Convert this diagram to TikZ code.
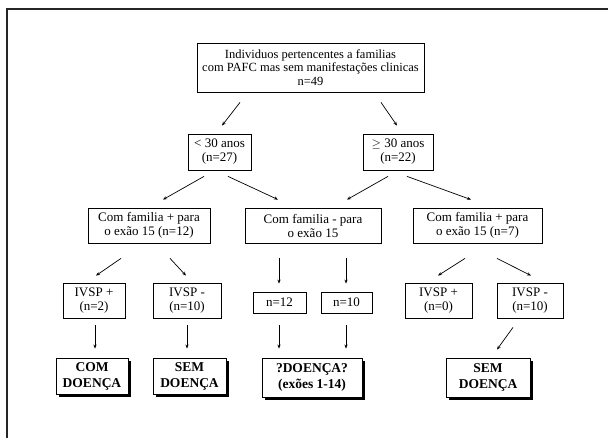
\documentclass[tikz,border=0pt]{standalone}
\usepackage{fontspec}
\setmainfont{Liberation Serif}
\usetikzlibrary{arrows.meta,shadows}
\begin{document}
\begin{tikzpicture}[x=1pt,y=-1pt,
  box/.style={draw, line width=0.8pt, fill=white, inner sep=1pt, align=center,
    font=\fontsize{13}{14}\selectfont},
  endbox/.style={box, line width=0.9pt, font=\fontsize{13.5}{16}\selectfont\bfseries,
    drop shadow={shadow xshift=3pt, shadow yshift=-3pt, fill=black, opacity=1}},
  arr/.style={line width=0.7pt, -{Stealth[length=4pt,width=3.2pt]}},
  frameline/.style={line width=1.4pt, draw=black!85}]
\useasboundingbox (0,0) rectangle (608,438);
\draw[frameline] (7,438) -- (7,9) -- (608,9);

\node[box, minimum width=227pt, minimum height=49pt, font=\fontsize{12.5}{13.5}\selectfont] (top) at (310.5,67.5)
  {Individuos pertencentes a familias\\com PAFC mas sem manifestações clinicas\\n=49};
\node[box, minimum width=63pt, minimum height=36pt] (lt30) at (219.5,152) {< 30 anos\\(n=27)};
\node[box, minimum width=70pt, minimum height=36pt] (ge30) at (398,152) {$\geq$ 30 anos\\(n=22)};

\node[box, minimum width=122pt, minimum height=35pt] (A) at (149,225.5) {Com familia + para\\o exão 15 (n=12)};
\node[box, minimum width=136pt, minimum height=35pt] (B) at (313,225.5) {Com familia - para\\o exão 15};
\node[box, minimum width=129pt, minimum height=35pt] (C) at (477.5,225.5) {Com familia + para\\o exão 15 (n=7)};

\node[box, minimum width=62pt, minimum height=35pt] (D1) at (94,300.5) {IVSP +\\(n=2)};
\node[box, minimum width=68pt, minimum height=35pt] (D2) at (187,300.5) {IVSP -\\(n=10)};
\node[box, minimum width=53pt, minimum height=21pt] (D3) at (279.5,302.5) {n=12};
\node[box, minimum width=51pt, minimum height=21pt] (D4) at (346.5,302.5) {n=10};
\node[box, minimum width=67pt, minimum height=35pt] (D5) at (438.5,300.5) {IVSP +\\(n=0)};
\node[box, minimum width=66pt, minimum height=35pt] (D6) at (530,300.5) {IVSP -\\(n=10)};

\node[endbox, minimum width=72pt, minimum height=36pt] (E1) at (92,376) {COM\\DOENÇA};
\node[endbox, minimum width=73pt, minimum height=36pt] (E2) at (189.5,376) {SEM\\DOENÇA};
\node[endbox, minimum width=100pt, minimum height=39pt] (E3) at (312,377.5) {?DOENÇA?\\(exões 1-14)};
\node[endbox, minimum width=84pt, minimum height=39pt] (E4) at (488,377.5) {SEM\\DOENÇA};

\draw[arr] ([xshift=-70.5pt,yshift=-10pt]top.south) -- ([xshift=2.5pt,yshift=8pt]lt30.north);
\draw[arr] ([xshift=70.5pt,yshift=-10pt]top.south) -- ([xshift=-1pt,yshift=8pt]ge30.north);
\draw[arr] ([xshift=-15.5pt,yshift=-6pt]lt30.south) -- ([xshift=14pt,yshift=8pt]A.north);
\draw[arr] ([xshift=8.5pt,yshift=-6pt]lt30.south) -- ([xshift=-35pt,yshift=8pt]B.north);
\draw[arr] ([xshift=-10pt,yshift=-6pt]ge30.south) -- ([xshift=34pt,yshift=8pt]B.north);
\draw[arr] ([xshift=9pt,yshift=-6pt]ge30.south) -- ([xshift=-6.5pt,yshift=8pt]C.north);

\draw[arr] ([xshift=-28pt,yshift=-15pt]A.south) -- ([xshift=2pt,yshift=7pt]D1.north);
\draw[arr] ([xshift=21pt,yshift=-15pt]A.south) -- ([xshift=-1pt,yshift=7pt]D2.north);
\draw[arr] ([xshift=-34pt,yshift=-15pt]B.south) -- ([xshift=-0.5pt,yshift=8pt]D3.north);
\draw[arr] ([xshift=33pt,yshift=-15pt]B.south) -- ([xshift=-0.5pt,yshift=8pt]D4.north);
\draw[arr] ([xshift=-12.5pt,yshift=-15pt]C.south) -- ([xshift=-0.5pt,yshift=7pt]D5.north);
\draw[arr] ([xshift=19.5pt,yshift=-15pt]C.south) -- ([xshift=1pt,yshift=7pt]D6.north);

\draw[arr] ([xshift=1pt,yshift=-7pt]D1.south) -- ([xshift=3pt,yshift=9pt]E1.north);
\draw[arr] ([xshift=0pt,yshift=-7pt]D2.south) -- ([xshift=-2.5pt,yshift=9pt]E2.north);
\draw[arr] ([xshift=-0.5pt,yshift=-12pt]D3.south) -- ([xshift=-33pt,yshift=9pt]E3.north);
\draw[arr] ([xshift=-0.5pt,yshift=-12pt]D4.south) -- ([xshift=34pt,yshift=9pt]E3.north);
\draw[arr] ([xshift=-17pt,yshift=-9pt]D6.south) -- ([xshift=9pt,yshift=8pt]E4.north);
\end{tikzpicture}
\end{document}
